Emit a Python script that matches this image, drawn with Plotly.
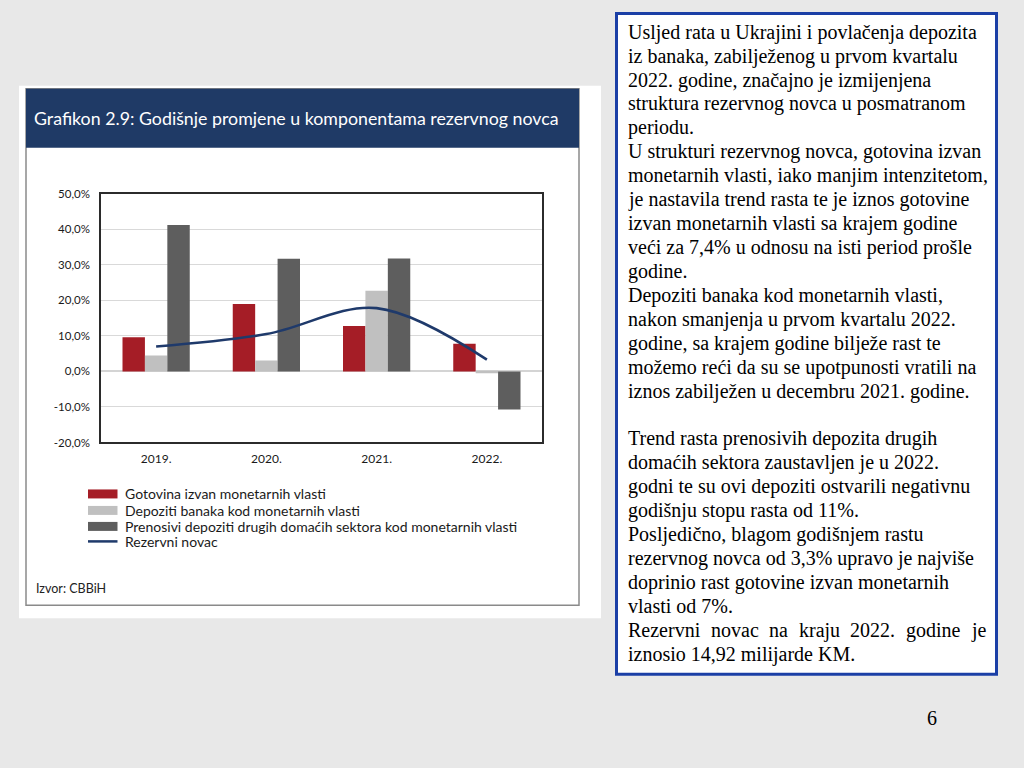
import plotly.graph_objects as go

# ---------------- data ----------------
categories = ["2019.", "2020.", "2021.", "2022."]
gotovina = [9.6, 19.0, 12.8, 7.8]
depoziti_banaka = [4.5, 3.1, 22.7, -0.5]
prenosivi_depoziti = [41.2, 31.7, 31.8, -10.7]
rezervni_novac = [7.0, 10.5, 17.8, 3.3]

series_names = [
    "Gotovina izvan monetarnih vlasti",
    "Depoziti banaka kod monetarnih vlasti",
    "Prenosivi depoziti drugih domaćih sektora kod monetarnih vlasti",
    "Rezervni novac",
]
y_tickvals = [-20, -10, 0, 10, 20, 30, 40, 50]
y_ticktext = ["-20,0%", "-10,0%", "0,0%", "10,0%", "20,0%", "30,0%", "40,0%", "50,0%"]

chart_title = "Grafikon 2.9: Godišnje promjene u komponentama rezervnog novca"
source_text = "Izvor: CBBiH"

text_lines = [
    "Usljed rata u Ukrajini i povlačenja depozita",
    "iz banaka, zabilježenog u prvom kvartalu",
    "2022. godine, značajno je izmijenjena",
    "struktura rezervnog novca u posmatranom",
    "periodu.",
    "U strukturi rezervnog novca, gotovina izvan",
    "monetarnih vlasti, iako manjim intenzitetom,",
    "je nastavila trend rasta te je iznos gotovine",
    "izvan monetarnih vlasti sa krajem godine",
    "veći za 7,4% u odnosu na isti period prošle",
    "godine.",
    "Depoziti banaka kod monetarnih vlasti,",
    "nakon smanjenja u prvom kvartalu 2022.",
    "godine, sa krajem godine bilježe rast te",
    "možemo reći da su se upotpunosti vratili na",
    "iznos zabilježen u decembru 2021. godine.",
    "",
    "Trend rasta prenosivih depozita drugih",
    "domaćih sektora zaustavljen je u 2022.",
    "godni te su ovi depoziti ostvarili negativnu",
    "godišnju stopu rasta od 11%.",
    "Posljedično, blagom godišnjem rastu",
    "rezervnog novca od 3,3% upravo je najviše",
    "doprinio rast gotovine izvan monetarnih",
    "vlasti od 7%.",
    "JUSTIFIED",
    "iznosio 14,92 milijarde KM.",
]
justified_words = ["Rezervni", "novac", "na", "kraju", "2022.", "godine", "je"]
page_number = "6"

# ---------------- styling ----------------
W, H = 1024, 768
C_RED = "#a51d26"
C_LIGHT = "#c0c0c0"
C_DARK = "#5e5e5e"
C_LINE = "#1f3a6b"
C_NAVY = "#1f3a66"
BG = "#e8e8e8"
SANS = "Lato, 'Open Sans', sans-serif"
SERIF = "'Liberation Serif', 'Times New Roman', serif"

# vertical calibration of the rendered page (measured from previous renders)
Y_SCALE = 0.984
Y_OFF = 6.1


def px(x):
    return x / W


def py(y):
    yf = (y - Y_OFF) / Y_SCALE
    return 1 - yf / H


fig = go.Figure()
fig.add_trace(go.Bar(x=categories, y=gotovina, name=series_names[0], marker_color=C_RED, marker_line_width=0))
fig.add_trace(go.Bar(x=categories, y=depoziti_banaka, name=series_names[1], marker_color=C_LIGHT, marker_line_width=0))
fig.add_trace(go.Bar(x=categories, y=prenosivi_depoziti, name=series_names[2], marker_color=C_DARK, marker_line_width=0))
fig.add_trace(go.Scatter(x=categories, y=rezervni_novac, name=series_names[3], mode="lines",
                         line=dict(color=C_LINE, width=2.6, shape="spline", smoothing=1.0)))

shapes = []
shapes.append(dict(type="rect", xref="paper", yref="paper", x0=px(19), x1=px(601), y0=py(618), y1=py(85),
                   fillcolor="white", line_width=0, layer="below"))
shapes.append(dict(type="rect", xref="paper", yref="paper", x0=px(26), x1=px(579), y0=py(605), y1=py(88),
                   fillcolor="white", line=dict(color="#8a8a8a", width=1.5), layer="below"))
shapes.append(dict(type="rect", xref="paper", yref="paper", x0=px(26), x1=px(579), y0=py(147), y1=py(88),
                   fillcolor=C_NAVY, line_width=0, layer="below"))
shapes.append(dict(type="rect", xref="paper", yref="paper", x0=px(616.5), x1=px(996.5), y0=py(674), y1=py(12.5),
                   fillcolor="white", line=dict(color="#1b3fa6", width=3), layer="below"))

legend_y = [493.5, 510, 526, 541]
legend_cols = [C_RED, C_LIGHT, C_DARK]
for i in range(3):
    shapes.append(dict(type="rect", xref="paper", yref="paper", x0=px(88), x1=px(117.5),
                       y0=py(legend_y[i] + 4.5), y1=py(legend_y[i] - 4.5),
                       fillcolor=legend_cols[i], line_width=0))
shapes.append(dict(type="line", xref="paper", yref="paper", x0=px(88), x1=px(117.5),
                   y0=py(legend_y[3]), y1=py(legend_y[3]), line=dict(color=C_LINE, width=2.5)))

annotations = []
annotations.append(dict(text=chart_title, xref="paper", yref="paper", x=px(32), y=py(117),
                        xanchor="left", yanchor="middle", showarrow=False,
                        font=dict(family=SANS, size=17.8, color="white")))
for i, name in enumerate(series_names):
    annotations.append(dict(text=name, xref="paper", yref="paper", x=px(123), y=py(legend_y[i]),
                            xanchor="left", yanchor="middle", showarrow=False,
                            font=dict(family=SANS, size=14, color="#1a1a1a")))
annotations.append(dict(text=source_text, xref="paper", yref="paper", x=px(34), y=py(588),
                        xanchor="left", yanchor="middle", showarrow=False,
                        font=dict(family=SANS, size=12.5, color="#222")))

LINE_H = 23.95
BASE0 = 37.8
FS = 20
for i, line in enumerate(text_lines):
    baseline = BASE0 + LINE_H * i
    yc = baseline - 6.5
    if line == "JUSTIFIED":
        word_x = [628, 710.6, 769.2, 798.8, 850.4, 906, 970.6]
        for wx, w in zip(word_x, justified_words):
            annotations.append(dict(text=w, xref="paper", yref="paper", x=px(wx - 2), y=py(yc),
                                    xanchor="left", yanchor="middle", showarrow=False,
                                    font=dict(family=SERIF, size=FS, color="black")))
        continue
    if not line:
        continue
    annotations.append(dict(text=line, xref="paper", yref="paper", x=px(626), y=py(yc),
                            xanchor="left", yanchor="middle", showarrow=False,
                            font=dict(family=SERIF, size=FS, color="black")))

annotations.append(dict(text=page_number, xref="paper", yref="paper", x=px(932), y=py(718),
                        xanchor="center", yanchor="middle", showarrow=False,
                        font=dict(family=SERIF, size=FS, color="black")))

fig.update_layout(
    width=W, height=H,
    margin=dict(l=0, r=0, t=0, b=0),
    paper_bgcolor=BG,
    plot_bgcolor="white",
    showlegend=False,
    barmode="group",
    bargap=0.39,
    bargroupgap=0,
    shapes=shapes,
    annotations=annotations,
    xaxis=dict(domain=[px(101), px(542)], showgrid=False, showline=True, mirror=True,
               linecolor="#2b2b2b", linewidth=1.5, ticks="", ticklabelstandoff=4,
               tickfont=dict(family=SANS, size=12, color="#1a1a1a")),
    yaxis=dict(domain=[py(442), py(193)], range=[-20, 50], tickvals=y_tickvals, ticktext=y_ticktext,
               showgrid=True, gridcolor="#d9d9d9", gridwidth=1, zeroline=True, zerolinecolor="#d4d4d4",
               zerolinewidth=1.5, showline=True, mirror=True, linecolor="#2b2b2b", linewidth=1.5,
               ticks="", ticklabelstandoff=7, tickfont=dict(family=SANS, size=11.5, color="#1a1a1a")),
)

post_js = (
    "var gd=document.getElementById('{plot_id}');"
    "gd.style.position='fixed';gd.style.left='0px';gd.style.top='0px';"
    "document.documentElement.style.overflow='hidden';"
    "document.documentElement.style.background='" + BG + "';"
    "document.body.style.margin='0';document.body.style.background='" + BG + "';"
)

fig.write_html("out.html", config={"displayModeBar": False}, post_script=post_js)
